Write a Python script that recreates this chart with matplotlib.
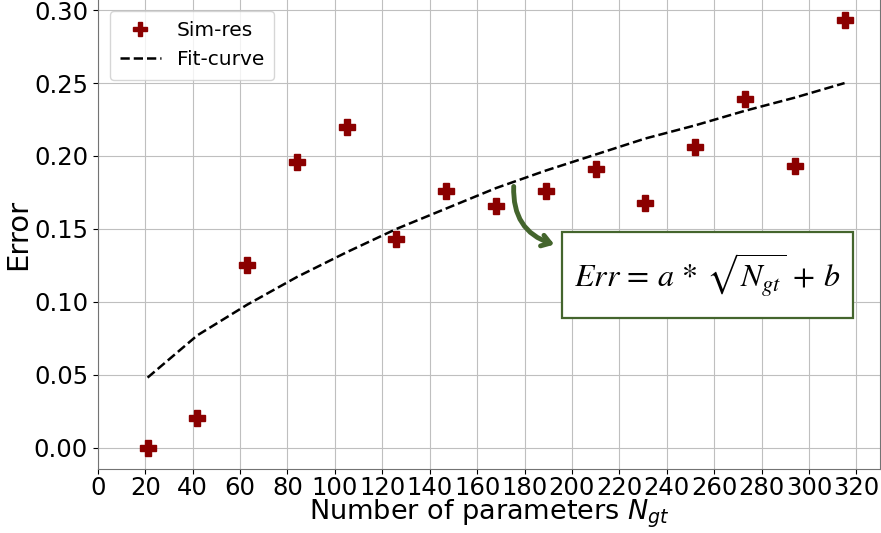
import matplotlib
matplotlib.use("Agg")
import matplotlib.pyplot as plt
from matplotlib.patches import Rectangle

# number of parameters and simulated error
n_params = [21, 42, 63, 84, 105, 126, 147, 168, 189, 210, 231, 252, 273, 294, 315]
sim_err = [0.000, 0.020, 0.125, 0.196, 0.220, 0.143, 0.176, 0.166, 0.176, 0.191,
           0.168, 0.206, 0.239, 0.193, 0.293]
# fitted curve
fit_err = [0.048, 0.077, 0.098, 0.117, 0.134, 0.150, 0.164, 0.178, 0.190, 0.201,
           0.212, 0.221, 0.231, 0.240, 0.250]
xticks = list(range(0, 321, 20))
yticks = [0.00, 0.05, 0.10, 0.15, 0.20, 0.25, 0.30]

fig = plt.figure(figsize=(8.81, 5.33), dpi=100)
ax = fig.add_axes([0.111, 0.12, 0.888, 0.882])

ax.plot(n_params, sim_err, "P", color="darkred", markersize=12, label="Sim-res", zorder=3)
ax.plot(n_params, fit_err, "--", color="black", linewidth=1.8, label="Fit-curve", zorder=3)

ax.set_xlim(0, 330)
ax.set_ylim(-0.0147, 0.3077)
ax.set_xticks(xticks)
ax.set_yticks(yticks)
ax.tick_params(labelsize=17.5)
ax.tick_params(axis="x", pad=1.5)
ax.grid(True, color="0.75", linewidth=0.8)
ax.set_axisbelow(True)
for s in ["left", "bottom", "right", "top"]:
    ax.spines[s].set_color("0.45")

ax.set_xlabel(r"Number of parameters $N_{gt}$", fontsize=19.5, labelpad=-1.5)
ax.set_ylabel("Error", fontsize=21, labelpad=1)
ax.legend(loc="upper left", fontsize=14.5, bbox_to_anchor=(0.003, 0.995),
          borderpad=0.5, handletextpad=0.8, markerscale=0.85)

# formula box with arrow
green = "#44652d"
box = Rectangle((195.8, 0.0892), 122.8, 0.0584, fill=True, facecolor="white",
                edgecolor=green, linewidth=1.6, zorder=4)
ax.add_patch(box)
ax.text(257.2, 0.1184, r"$Err\,=\,a\,*\,\sqrt{N_{gt}}\,+\,b$", fontsize=23,
        ha="center", va="center", zorder=5, math_fontfamily="stix")
ax.annotate("", xy=(193.7, 0.1387), xytext=(175.5, 0.181),
            arrowprops=dict(arrowstyle="->,head_length=0.6,head_width=0.4",
                            color=green, linewidth=3.5,
                            connectionstyle="arc3,rad=0.4"), zorder=5)

fig.savefig("out.png", dpi=100)
